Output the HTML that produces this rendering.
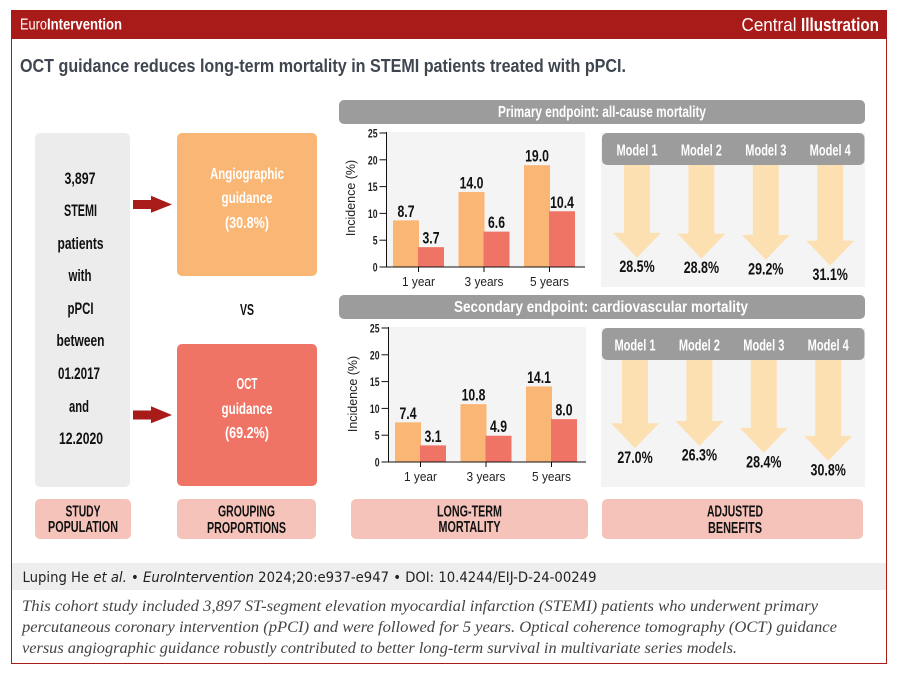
<!DOCTYPE html>
<html lang="en">
<head>
<meta charset="utf-8">
<title>OCT guidance reduces long-term mortality</title>
<style>
html,body{margin:0;padding:0;background:#fff;}
svg{display:block;}
text{font-family:"Liberation Sans",sans-serif;}
.b{font-weight:bold;}
.c{text-anchor:middle;}
</style>
</head>
<body>
<svg id="fig" width="900" height="674" viewBox="0 0 900 674" xmlns="http://www.w3.org/2000/svg">
  <rect x="11.5" y="10.5" width="875" height="653" fill="#fff" stroke="#a81b18" stroke-width="1"/>
  <rect x="11" y="10" width="876" height="29" fill="#a81b18"/>
  <text x="20" y="29.5" font-size="15.5" fill="#fff" textLength="27" lengthAdjust="spacingAndGlyphs">Euro</text>
  <text class="b" x="47" y="29.5" font-size="15.5" fill="#fff" textLength="75" lengthAdjust="spacingAndGlyphs">Intervention</text>
  <text x="741.5" y="31" font-size="18" fill="#fff" textLength="55" lengthAdjust="spacingAndGlyphs">Central</text>
  <text class="b" x="801" y="31" font-size="18" fill="#fff" textLength="78" lengthAdjust="spacingAndGlyphs">Illustration</text>
  <text class="b" x="20" y="72" font-size="18.5" fill="#3f4650" textLength="606" lengthAdjust="spacingAndGlyphs">OCT guidance reduces long-term mortality in STEMI patients treated with pPCI.</text>

  <!-- study population column -->
  <rect x="35" y="133" width="95" height="354" rx="5" fill="#ececec"/>
  <g class="b" font-size="17" fill="#111">
    <text class="b c" x="80" y="184" textLength="31" lengthAdjust="spacingAndGlyphs">3,897</text>
    <text class="b c" x="80.5" y="216" textLength="33" lengthAdjust="spacingAndGlyphs">STEMI</text>
    <text class="b c" x="80.5" y="249" textLength="46" lengthAdjust="spacingAndGlyphs">patients</text>
    <text class="b c" x="80" y="281" textLength="23" lengthAdjust="spacingAndGlyphs">with</text>
    <text class="b c" x="80.5" y="314" textLength="26" lengthAdjust="spacingAndGlyphs">pPCI</text>
    <text class="b c" x="80.5" y="346" textLength="48" lengthAdjust="spacingAndGlyphs">between</text>
    <text class="b c" x="79" y="379" textLength="42" lengthAdjust="spacingAndGlyphs">01.2017</text>
    <text class="b c" x="79" y="412" textLength="20" lengthAdjust="spacingAndGlyphs">and</text>
    <text class="b c" x="81" y="444" textLength="44" lengthAdjust="spacingAndGlyphs">12.2020</text>
  </g>

  <polygon points="133,200 151,200 151,195.7 172,204.5 151,212.7 151,209 133,209" fill="#a81b18"/>
  <polygon points="133,410.5 151,410.5 151,406.2 172,415 151,423.2 151,419.5 133,419.5" fill="#a81b18"/>

  <!-- grouping column -->
  <rect x="177" y="133" width="140" height="143" rx="5" fill="#fab675"/>
  <g font-size="16" fill="#fff" font-weight="bold">
    <text class="c" x="247" y="179" textLength="74" lengthAdjust="spacingAndGlyphs">Angiographic</text>
    <text class="c" x="247" y="203" textLength="51" lengthAdjust="spacingAndGlyphs">guidance</text>
    <text class="c" x="247" y="228" textLength="44" lengthAdjust="spacingAndGlyphs">(30.8%)</text>
  </g>
  <text class="b c" x="247" y="315" font-size="16" fill="#111" textLength="14" lengthAdjust="spacingAndGlyphs">VS</text>
  <rect x="177" y="344" width="140" height="142" rx="5" fill="#f07465"/>
  <g font-size="16" fill="#fff" font-weight="bold">
    <text class="b c" x="247" y="389" textLength="21" lengthAdjust="spacingAndGlyphs">OCT</text>
    <text class="c" x="247" y="414" textLength="51" lengthAdjust="spacingAndGlyphs">guidance</text>
    <text class="c" x="247" y="438" textLength="44" lengthAdjust="spacingAndGlyphs">(69.2%)</text>
  </g>

  <!-- section bars -->
  <rect x="339" y="100" width="526" height="24" rx="5" fill="#9c9c9c"/>
  <text class="b c" x="602" y="117" font-size="16" fill="#fff" textLength="208" lengthAdjust="spacingAndGlyphs">Primary endpoint: all-cause mortality</text>
  <rect x="339" y="295" width="526" height="24" rx="5" fill="#9c9c9c"/>
  <text class="b c" x="601" y="312" font-size="16" fill="#fff" textLength="294" lengthAdjust="spacingAndGlyphs">Secondary endpoint: cardiovascular mortality</text>

  <g id="charts"></g>

  <!-- bottom labels -->
  <rect x="35" y="499" width="96" height="40" rx="5" fill="#f5c3ba"/>
  <text class="b c" x="83" y="516.5" font-size="16" fill="#111" textLength="35" lengthAdjust="spacingAndGlyphs">STUDY</text>
  <text class="b c" x="83" y="532" font-size="16" fill="#111" textLength="70" lengthAdjust="spacingAndGlyphs">POPULATION</text>
  <rect x="177" y="499" width="139" height="40" rx="5" fill="#f5c3ba"/>
  <text class="b c" x="246.5" y="516.5" font-size="16" fill="#111" textLength="57" lengthAdjust="spacingAndGlyphs">GROUPING</text>
  <text class="b c" x="246.5" y="533" font-size="16" fill="#111" textLength="79" lengthAdjust="spacingAndGlyphs">PROPORTIONS</text>
  <rect x="351" y="499" width="237" height="40" rx="5" fill="#f5c3ba"/>
  <text class="b c" x="469.5" y="516.5" font-size="16" fill="#111" textLength="65" lengthAdjust="spacingAndGlyphs">LONG-TERM</text>
  <text class="b c" x="469.5" y="532" font-size="16" fill="#111" textLength="62" lengthAdjust="spacingAndGlyphs">MORTALITY</text>
  <rect x="602" y="499" width="261" height="40" rx="5" fill="#f5c3ba"/>
  <text class="b c" x="735" y="516.5" font-size="16" fill="#111" textLength="56" lengthAdjust="spacingAndGlyphs">ADJUSTED</text>
  <text class="b c" x="735" y="533" font-size="16" fill="#111" textLength="54" lengthAdjust="spacingAndGlyphs">BENEFITS</text>

  <!-- citation -->
  <rect x="12" y="563" width="874" height="27" fill="#eeeeee"/>
  <text x="22.5" y="582" font-size="14" fill="#222" style='font-family:"DejaVu Sans",sans-serif' textLength="574" lengthAdjust="spacingAndGlyphs">Luping He <tspan font-style="italic">et al.</tspan> • <tspan font-style="italic">EuroIntervention</tspan> 2024;20:e937-e947 • DOI: 10.4244/EIJ-D-24-00249</text>

  <g fill="#444" font-size="15.5" font-style="italic">
    <text style='font-family:"Liberation Serif",serif' x="22" y="611" textLength="796" lengthAdjust="spacingAndGlyphs">This cohort study included 3,897 ST-segment elevation myocardial infarction (STEMI) patients who underwent primary</text>
    <text style='font-family:"Liberation Serif",serif' x="22" y="632" textLength="815" lengthAdjust="spacingAndGlyphs">percutaneous coronary intervention (pPCI) and were followed for 5 years. Optical coherence tomography (OCT) guidance</text>
    <text style='font-family:"Liberation Serif",serif' x="22" y="653" textLength="715" lengthAdjust="spacingAndGlyphs">versus angiographic guidance robustly contributed to better long-term survival in multivariate series models.</text>
  </g>
</svg>

<script>
const yearLabels = ['1 year', '3 years', '5 years'];
const yTickValues = [0, 5, 10, 15, 20, 25];
const primaryAngio = [8.7, 14.0, 19.0];
const primaryOct = [3.7, 6.6, 10.4];
const secondaryAngio = [7.4, 10.8, 14.1];
const secondaryOct = [3.1, 4.9, 8.0];
const modelLabels = ['Model 1', 'Model 2', 'Model 3', 'Model 4'];
const primaryBenefit = [28.5, 28.8, 29.2, 31.1];
const secondaryBenefit = [27.0, 26.3, 28.4, 30.8];

const NS = 'http://www.w3.org/2000/svg';
const root = document.getElementById('charts');

function shape(kind, attrs, parent) {
  const el = document.createElementNS(NS, kind);
  for (const k in attrs) el.setAttribute(k, attrs[k]);
  (parent || root).appendChild(el);
  return el;
}

function label(str, attrs, condense, parent) {
  const el = shape('text', attrs, parent);
  el.textContent = str;
  if (condense) {
    const w = el.getComputedTextLength() * condense;
    el.setAttribute('textLength', w.toFixed(1));
    el.setAttribute('lengthAdjust', 'spacingAndGlyphs');
  }
  return el;
}

function drawBars(cfg) {
  const g = shape('g', {});
  
  
  const yScale = v => cfg.y0 - v * (cfg.y0 - cfg.yTop) / 25;
  const xScale = i => cfg.xStart + i * cfg.xStep;

  const bg = shape('rect', {x: cfg.axisX, y: cfg.yTop - 1, width: cfg.right - cfg.axisX, height: cfg.y0 - cfg.yTop + 1, fill: '#f4f4f4'}, g);
  
  

  yearLabels.forEach((yr, i) => {
    const cx = xScale(i);
    const a = cfg.angio[i], o = cfg.oct[i];
    const barA = shape('rect', {x: cx - 25.5, y: yScale(a), width: 26, height: cfg.y0 - yScale(a), fill: '#fab675'}, g);
    
    
    const barO = shape('rect', {x: cx - 0.5, y: yScale(o), width: 26, height: cfg.y0 - yScale(o), fill: '#f07465'}, g);
    
    
    const la = label(a.toFixed(1), {x: cx - 12.5, y: yScale(a) - 3.5, 'font-size': 17, 'font-weight': 'bold', 'text-anchor': 'middle', fill: '#111'}, 0.72, g);
    
    
    const lo = label(o.toFixed(1), {x: cx + 12.5, y: yScale(o) - 3.5, 'font-size': 17, 'font-weight': 'bold', 'text-anchor': 'middle', fill: '#111'}, 0.72, g);
    
    
    const tick = shape('line', {x1: cx, x2: cx, y1: cfg.y0, y2: cfg.y0 + 5, stroke: '#111', 'stroke-width': 1}, g);
    
    
    const xl = label(yr, {x: cx, y: cfg.y0 + 19, 'font-size': 12.5, 'text-anchor': 'middle', fill: '#222'}, 0.95, g);
    
    
  });

  const yAxis = shape('line', {x1: cfg.axisX, x2: cfg.axisX, y1: cfg.yTop - 1, y2: cfg.y0 + 0.5, stroke: '#111', 'stroke-width': 1}, g);
  
  
  const xAxis = shape('line', {x1: cfg.axisX - 7, x2: cfg.right, y1: cfg.y0, y2: cfg.y0, stroke: '#111', 'stroke-width': 1}, g);
  
  

  yTickValues.forEach(v => {
    const t = shape('line', {x1: cfg.axisX - 7, x2: cfg.axisX, y1: yScale(v), y2: yScale(v), stroke: '#111', 'stroke-width': 1}, g);
    
    
    const l = label(String(v), {x: cfg.axisX - 9, y: yScale(v) + 4.5, 'font-size': 12, 'text-anchor': 'end', 'font-weight': 'bold', fill: '#222'}, 0.72, g);
    
    
  });

  const title = label('Incidence (%)', {x: 0, y: 0, 'font-size': 13, 'text-anchor': 'middle', fill: '#222', transform: 'translate(' + cfg.titleX + ',' + cfg.titleY + ') rotate(-90)'}, 0.96, g);
  
  
}

function drawBenefits(cfg) {
  const g = shape('g', {});
  
  
  const xScale = i => cfg.xStart + i * 64.4;
  const tipScale = v => cfg.tipBase + (v - cfg.valueBase) * cfg.tipSlope;

  const panel = shape('rect', {x: 601, y: cfg.top, width: 264, height: cfg.bottom - cfg.top, fill: '#f4f4f4'}, g);
  
  

  cfg.values.forEach((v, i) => {
    const cx = xScale(i);
    const tip = tipScale(v);
    const pts = [
      [cx - 13, cfg.top + 20], [cx + 13, cfg.top + 20], [cx + 13, tip - 25], [cx + 24, tip - 25],
      [cx, tip], [cx - 24, tip - 25], [cx - 13, tip - 25]
    ].map(p => p.join(',')).join(' ');
    const arrow = shape('polygon', {points: pts, fill: '#fde0b2'}, g);
    
    
    const val = label(v.toFixed(1) + '%', {x: cx, y: tip + 14.5, 'font-size': 16.5, 'font-weight': 'bold', 'text-anchor': 'middle', fill: '#111'}, 0.755, g);
    
    
  });

  const head = shape('rect', {x: 602, y: cfg.top, width: 262.5, height: 32, rx: 5, fill: '#9c9c9c'}, g);
  
  

  modelLabels.forEach((m, i) => {
    const ml = label(m, {x: xScale(i), y: cfg.top + 22.5, 'font-size': 16, 'font-weight': 'bold', 'text-anchor': 'middle', fill: '#fff'}, 0.69, g);
    
    
  });
}

drawBars({name: 'primary', angio: primaryAngio, oct: primaryOct, axisX: 386.5, right: 585, y0: 267, yTop: 133, xStart: 418.5, xStep: 65.5, titleX: 355, titleY: 198});
drawBars({name: 'secondary', angio: secondaryAngio, oct: secondaryOct, axisX: 388.5, right: 586, y0: 462, yTop: 328, xStart: 420.5, xStep: 65.5, titleX: 357, titleY: 394});
drawBenefits({name: 'primary', values: primaryBenefit, top: 133, bottom: 287, xStart: 637, tipBase: 257.7, valueBase: 28.5, tipSlope: 3.05});
drawBenefits({name: 'secondary', values: secondaryBenefit, top: 328, bottom: 487, xStart: 635, tipBase: 448.3, valueBase: 27.0, tipSlope: 3.3});
</script>
</body>
</html>
